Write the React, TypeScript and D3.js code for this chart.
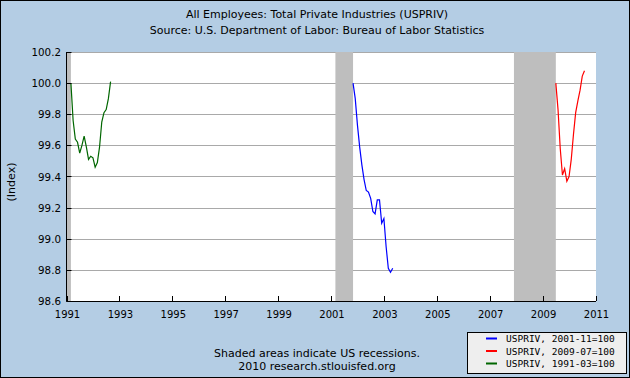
import React from "react";
import * as d3 from "d3";

// ---- Data ----
const titleLines = [
  "All Employees: Total Private Industries (USPRIV)",
  "Source: U.S. Department of Labor: Bureau of Labor Statistics",
];
const yAxisLabel = "(Index)";
const footnoteLines = ["Shaded areas indicate US recessions.", "2010 research.stlouisfed.org"];

// USPRIV, 1991-03=100 (monthly from 1991-03)
const greenStart = "1991-03";
const greenValues = [
  100.0, 99.76, 99.64, 99.62, 99.55, 99.6, 99.66, 99.59, 99.51, 99.53, 99.52, 99.46, 99.49,
  99.59, 99.75, 99.81, 99.83, 99.9, 100.01,
];
// USPRIV, 2001-11=100 (monthly from 2001-11)
const blueStart = "2001-11";
const blueValues = [
  100.0, 99.9, 99.73, 99.59, 99.475, 99.38, 99.31, 99.3, 99.26, 99.175, 99.16, 99.25, 99.25,
  99.1, 99.13, 98.95, 98.81, 98.785, 98.81,
];
// USPRIV, 2009-07=100 (monthly from 2009-07)
const redStart = "2009-07";
const redValues = [
  100.0, 99.83, 99.58, 99.41, 99.45, 99.37, 99.4, 99.51, 99.67, 99.81, 99.886, 99.955, 100.045,
  100.08,
];

const seriesNames = ["USPRIV, 2001-11=100", "USPRIV, 2009-07=100", "USPRIV, 1991-03=100"];
const seriesColors = ["#0000FF", "#FF0000", "#006600"];

// recession periods (start, end) as months
const recessionStarts = ["1990-07", "2001-03", "2007-12"];
const recessionEnds = ["1991-03", "2001-11", "2009-07"];

const yTicks = [98.6, 98.8, 99.0, 99.2, 99.4, 99.6, 99.8, 100.0, 100.2];
const xTicks = [1991, 1993, 1995, 1997, 1999, 2001, 2003, 2005, 2007, 2009, 2011];

// ---- helpers ----
const monthToYear = (s: string) => {
  const [y, m] = s.split("-").map(Number);
  return y + (m - 1) / 12;
};
const seriesPoints = (start: string, vals: number[]) => {
  const t0 = monthToYear(start);
  return vals.map((v, i) => ({ t: t0 + i / 12, v }));
};

const W = 630;
const H = 378;
const plot = { left: 66.5, right: 595.5, top: 52, bottom: 301 };

export default function App() {
  const x = d3.scaleLinear().domain([1991, 2011]).range([plot.left, plot.right]);
  const y = d3.scaleLinear().domain([98.6, 100.2]).range([plot.bottom, plot.top]);
  const line = d3
    .line<{ t: number; v: number }>()
    .x((d) => x(d.t))
    .y((d) => y(d.v));

  const series = [
    { pts: seriesPoints(blueStart, blueValues), color: seriesColors[0] },
    { pts: seriesPoints(redStart, redValues), color: seriesColors[1] },
    { pts: seriesPoints(greenStart, greenValues), color: seriesColors[2] },
  ];

  const font = "'DejaVu Sans', Verdana, sans-serif";

  return (
    <svg
      width={W}
      height={H}
      style={{ position: "absolute", left: 0, top: 0 }}
      fontFamily={font}
    >
      <rect x={0} y={0} width={W} height={H} fill="#B4CDE4" />
      <rect x={0.5} y={0.5} width={W - 1} height={H - 1} fill="none" stroke="#000" strokeWidth={1} />

      {titleLines.map((t, i) => (
        <text key={i} x={317} y={18 + i * 16} textAnchor="middle" fontSize={11} fill="#000">
          {t}
        </text>
      ))}

      {/* plot background */}
      <rect
        x={plot.left}
        y={plot.top}
        width={plot.right - plot.left + 0.5}
        height={plot.bottom - plot.top}
        fill="#FFFFFF"
      />
      {/* gridlines */}
      {yTicks.slice(1).map((t) => (
        <line
          key={t}
          x1={plot.left}
          x2={plot.right + 0.5}
          y1={Math.round(y(t)) + 0.5}
          y2={Math.round(y(t)) + 0.5}
          stroke="#A9A9A9"
          strokeWidth={1}
        />
      ))}
      {/* recessions */}
      {recessionStarts.map((s, i) => {
        const x0 = Math.max(plot.left, x(monthToYear(s)));
        const x1 = x(monthToYear(recessionEnds[i]));
        return (
          <rect
            key={s}
            x={x0}
            y={plot.top}
            width={x1 - x0}
            height={plot.bottom - plot.top}
            fill="#BEBEBE"
          />
        );
      })}
      {/* series */}
      {series.map((s, i) => (
        <path key={i} d={line(s.pts) || ""} fill="none" stroke={s.color} strokeWidth={1.2} />
      ))}

      {/* axes */}
      <line x1={plot.left} x2={plot.left} y1={plot.top} y2={plot.bottom + 0.5} stroke="#000" />
      <line x1={plot.left} x2={plot.right + 0.5} y1={plot.bottom + 0.5} y2={plot.bottom + 0.5} stroke="#000" />
      {yTicks.map((t) => (
        <g key={t}>
          <line
            x1={plot.left}
            x2={plot.left + 5}
            y1={Math.round(y(t)) + 0.5}
            y2={Math.round(y(t)) + 0.5}
            stroke="#000"
          />
          <text x={61} y={y(t)} textAnchor="end" dominantBaseline="central" fontSize={10.3} fill="#000">
            {t.toFixed(1)}
          </text>
        </g>
      ))}
      {xTicks.map((t) => (
        <g key={t}>
          <line
            x1={Math.round(x(t)) + 0.5}
            x2={Math.round(x(t)) + 0.5}
            y1={plot.bottom}
            y2={plot.bottom - 5}
            stroke="#000"
          />
          <text x={x(t) + 1} y={318} textAnchor="middle" fontSize={10} fill="#000">
            {t}
          </text>
        </g>
      ))}

      <text
        transform={`translate(11,182) rotate(-90)`}
        textAnchor="middle"
        dominantBaseline="central"
        fontSize={11}
        fill="#000"
      >
        {yAxisLabel}
      </text>

      {footnoteLines.map((t, i) => (
        <text key={i} x={317} y={357 + i * 12.5} textAnchor="middle" fontSize={11} fill="#000">
          {t}
        </text>
      ))}

      {/* legend */}
      <rect x={467.5} y={332.5} width={159} height={41} fill="#EEEEEE" stroke="#000" strokeWidth={1} />
      {seriesNames.map((n, i) => (
        <g key={n}>
          <line x1={486} x2={497} y1={338.5 + i * 12.5} y2={338.5 + i * 12.5} stroke={seriesColors[i]} strokeWidth={2} />
          <text
            x={506}
            y={338.5 + i * 12.5}
            dominantBaseline="central"
            fontSize={9.5}
            fontFamily="'DejaVu Sans Mono', monospace"
            fill="#000"
          >
            {n}
          </text>
        </g>
      ))}
    </svg>
  );
}
